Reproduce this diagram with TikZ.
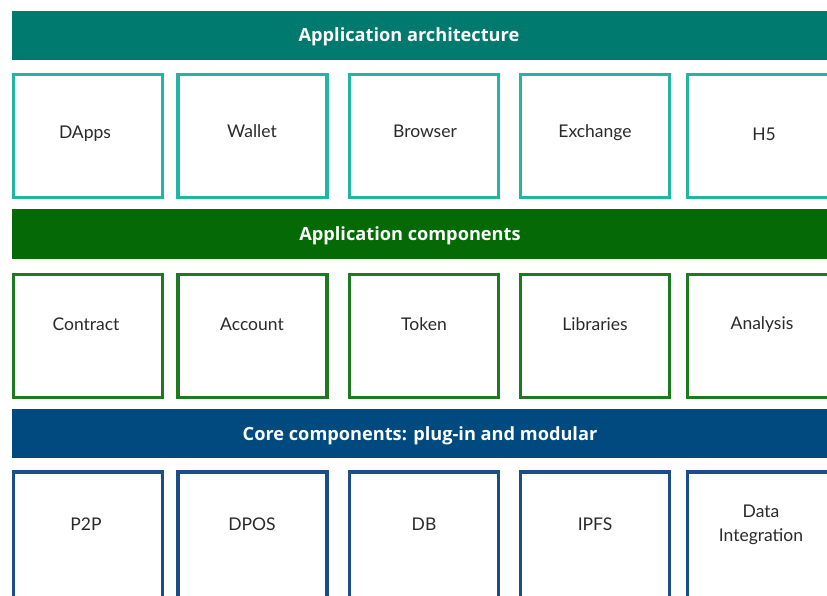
\documentclass[tikz,border=0pt]{standalone}
\usepackage{fontspec}
\setmainfont{Open Sans}
\newfontfamily\labelfont{Lato}
\definecolor{tealH}{HTML}{00796F}
\definecolor{tealB}{HTML}{22B5A2}
\definecolor{greenH}{HTML}{056A05}
\definecolor{greenB}{HTML}{1F7A1F}
\definecolor{blueH}{HTML}{004A80}
\definecolor{blueB}{HTML}{1B4E88}
\definecolor{txt}{HTML}{2A2A2A}
\tikzset{
  header/.style={fill=#1, draw=none, minimum width=828pt, minimum height=49pt, inner sep=0pt},
  htext/.style={text=white, font=\fontsize{18.2}{20}\selectfont\bfseries, inner sep=0pt},
  cell/.style={draw=#1, line width=3.2pt, fill=white, minimum width=149pt, minimum height=123pt, inner sep=0pt},
  ltext/.style={text=txt, font=\labelfont\fontsize{17.5}{22}\selectfont, align=center, inner sep=0pt},
}
\begin{document}
\begin{tikzpicture}[x=1pt,y=-1pt]
\useasboundingbox (0,0) rectangle (827,596);
\clip (0,0) rectangle (827,596);
\fill[white] (0,0) rectangle (827,596);
% headers
\node[header=tealH] (h1) at (426,35.5) {};
\node[htext] (t1) at (409,37) {Application architecture};
\node[header=greenH] (h2) at (426,234) {};
\node[htext] (t2) at (410,236) {Application components};
\node[header=blueH] (h3) at (426,433) {};
\node[htext] (t3) at (420,435.5) {Core components: plug-in and modular};
% row 1
\node[cell=tealB] (a1) at (88,136) {};
\node[cell=tealB] (a2) at (252.5,136) {};
\node[cell=tealB] (a3) at (424,136) {};
\node[cell=tealB] (a4) at (595,136) {};
\node[cell=tealB] (a5) at (762,136) {};
\node[ltext] (la1) at (85,134) {DApps};
\node[ltext] (la2) at (252,131) {Wallet};
\node[ltext] (la3) at (425,131) {Browser};
\node[ltext] (la4) at (595,133) {Exchange};
\node[ltext] (la5) at (764,134) {H5};
% row 2
\node[cell=greenB] (b1) at (88,336) {};
\node[cell=greenB] (b2) at (252.5,336) {};
\node[cell=greenB] (b3) at (424,336) {};
\node[cell=greenB] (b4) at (595,336) {};
\node[cell=greenB] (b5) at (762,336) {};
\node[ltext] (lb1) at (86,324) {Contract};
\node[ltext] (lb2) at (252,324) {Account};
\node[ltext] (lb3) at (424,324) {Token};
\node[ltext] (lb4) at (595,324) {Libraries};
\node[ltext] (lb5) at (762,325) {Analysis};
% row 3
\node[cell=blueB, minimum height=140pt] (c1) at (88,542) {};
\node[cell=blueB, minimum height=140pt] (c2) at (252.5,542) {};
\node[cell=blueB, minimum height=140pt] (c3) at (424,542) {};
\node[cell=blueB, minimum height=140pt] (c4) at (595,542) {};
\node[cell=blueB, minimum height=140pt] (c5) at (762,542) {};
\node[ltext] (lc1) at (86,524) {P2P};
\node[ltext] (lc2) at (252,524) {DPOS};
\node[ltext] (lc3) at (424,524) {DB};
\node[ltext] (lc4) at (595,524) {IPFS};
\node[ltext, font=\labelfont\fontsize{17.5}{24}\selectfont] (lc5) at (761,525) {Data\\Integration};
\end{tikzpicture}
\end{document}
